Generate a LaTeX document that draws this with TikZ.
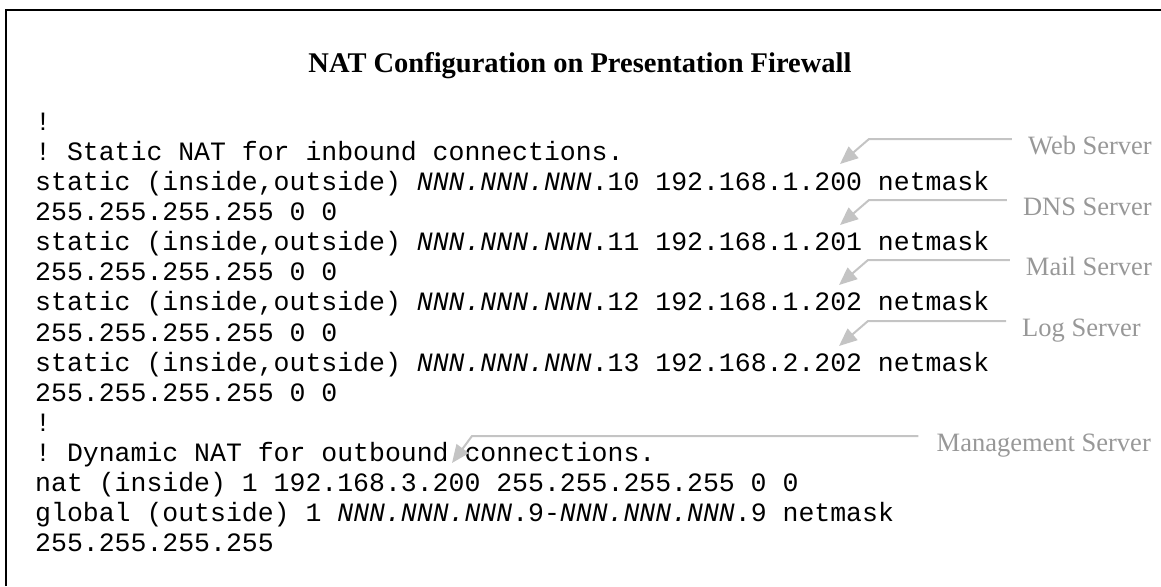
\documentclass[tikz,border=0pt]{standalone}
\usepackage{fontspec}
\setmainfont{Liberation Serif}
\setmonofont{Liberation Mono}
\usetikzlibrary{arrows.meta}

\definecolor{labelgray}{RGB}{152,152,152}
\definecolor{pointergray}{RGB}{196,196,196}

\newcommand{\cfgfont}{\fontsize{26.5}{30}\selectfont\ttfamily}
\newcommand{\nnn}{\textit{NNN.NNN.NNN}}

\tikzset{
  frame/.style={line width=1.5pt, black},
  heading/.style={anchor=base, inner sep=0pt, font=\fontsize{28.5}{30}\selectfont\bfseries},
  codeline/.style={anchor=base west, inner sep=0pt, font=\cfgfont},
  server/.style={inner sep=0pt, text=labelgray, font=\fontsize{26.5}{30}\selectfont},
  pointer/.style={draw=pointergray, line width=2pt, line join=miter,
    -{Triangle[length=18pt,width=15pt,fill=pointergray]}}
}

\begin{document}
\begin{tikzpicture}[x=1pt,y=-1pt]
\useasboundingbox (0,0) rectangle (1161,586);

% open frame: top and left edges
\draw[frame] (6,586) -- (6,10) -- (1161,10);

\node[heading] (title) at (580,72) {NAT Configuration on Presentation Firewall};

% configuration listing, one node per line
\node[codeline] (l0)  at (35,130) {!};
\node[codeline] (l1)  at (35,160) {! Static NAT for inbound connections.};
\node[codeline] (l2)  at (35,190) {static (inside,outside) \nnn.10 192.168.1.200 netmask};
\node[codeline] (l3)  at (35,220) {255.255.255.255 0 0};
\node[codeline] (l4)  at (35,250) {static (inside,outside) \nnn.11 192.168.1.201 netmask};
\node[codeline] (l5)  at (35,280) {255.255.255.255 0 0};
\node[codeline] (l6)  at (35,310) {static (inside,outside) \nnn.12 192.168.1.202 netmask};
\node[codeline] (l7)  at (35,341) {255.255.255.255 0 0};
\node[codeline] (l8)  at (35,371) {static (inside,outside) \nnn.13 192.168.2.202 netmask};
\node[codeline] (l9)  at (35,401) {255.255.255.255 0 0};
\node[codeline] (l10) at (35,431) {!};
\node[codeline] (l11) at (35,461) {! Dynamic NAT for outbound connections.};
\node[codeline] (l12) at (35,491) {nat (inside) 1 192.168.3.200 255.255.255.255 0 0};
\node[codeline] (l13) at (35,521) {global (outside) 1 \nnn.9-\nnn.9 netmask};
\node[codeline] (l14) at (35,551) {255.255.255.255};

% server labels
\node[server, anchor=base east] (web)  at (1152,154) {Web Server};
\node[server, anchor=base east] (dns)  at (1152,215) {DNS Server};
\node[server, anchor=base east] (mail) at (1152,275) {Mail Server};
\node[server, anchor=base west] (log)  at (1022,336) {Log Server};
\node[server, anchor=base east] (mgmt) at (1151,451) {Management Server};

% points the labels refer to
\coordinate (webtip)  at (840,164);
\coordinate (dnstip)  at (840,225);
\coordinate (mailtip) at (839,285);
\coordinate (logtip)  at (839,346);
\coordinate (mgmttip) at (452,463);

\draw[pointer] ([shift={(-16,-15)}]web.base west)  -- ([shift={(29,-25)}]webtip)  -- (webtip);
\draw[pointer] ([shift={(-16,-15)}]dns.base west)  -- ([shift={(29,-25)}]dnstip)  -- (dnstip);
\draw[pointer] ([shift={(-16,-15)}]mail.base west) -- ([shift={(29,-25)}]mailtip) -- (mailtip);
\draw[pointer] ([shift={(-16,-15)}]log.base west)  -- ([shift={(29,-25)}]logtip)  -- (logtip);
\draw[pointer] ([shift={(-18,-15)}]mgmt.base west) -- ([shift={(20,-27)}]mgmttip) -- (mgmttip);
\end{tikzpicture}
\end{document}
